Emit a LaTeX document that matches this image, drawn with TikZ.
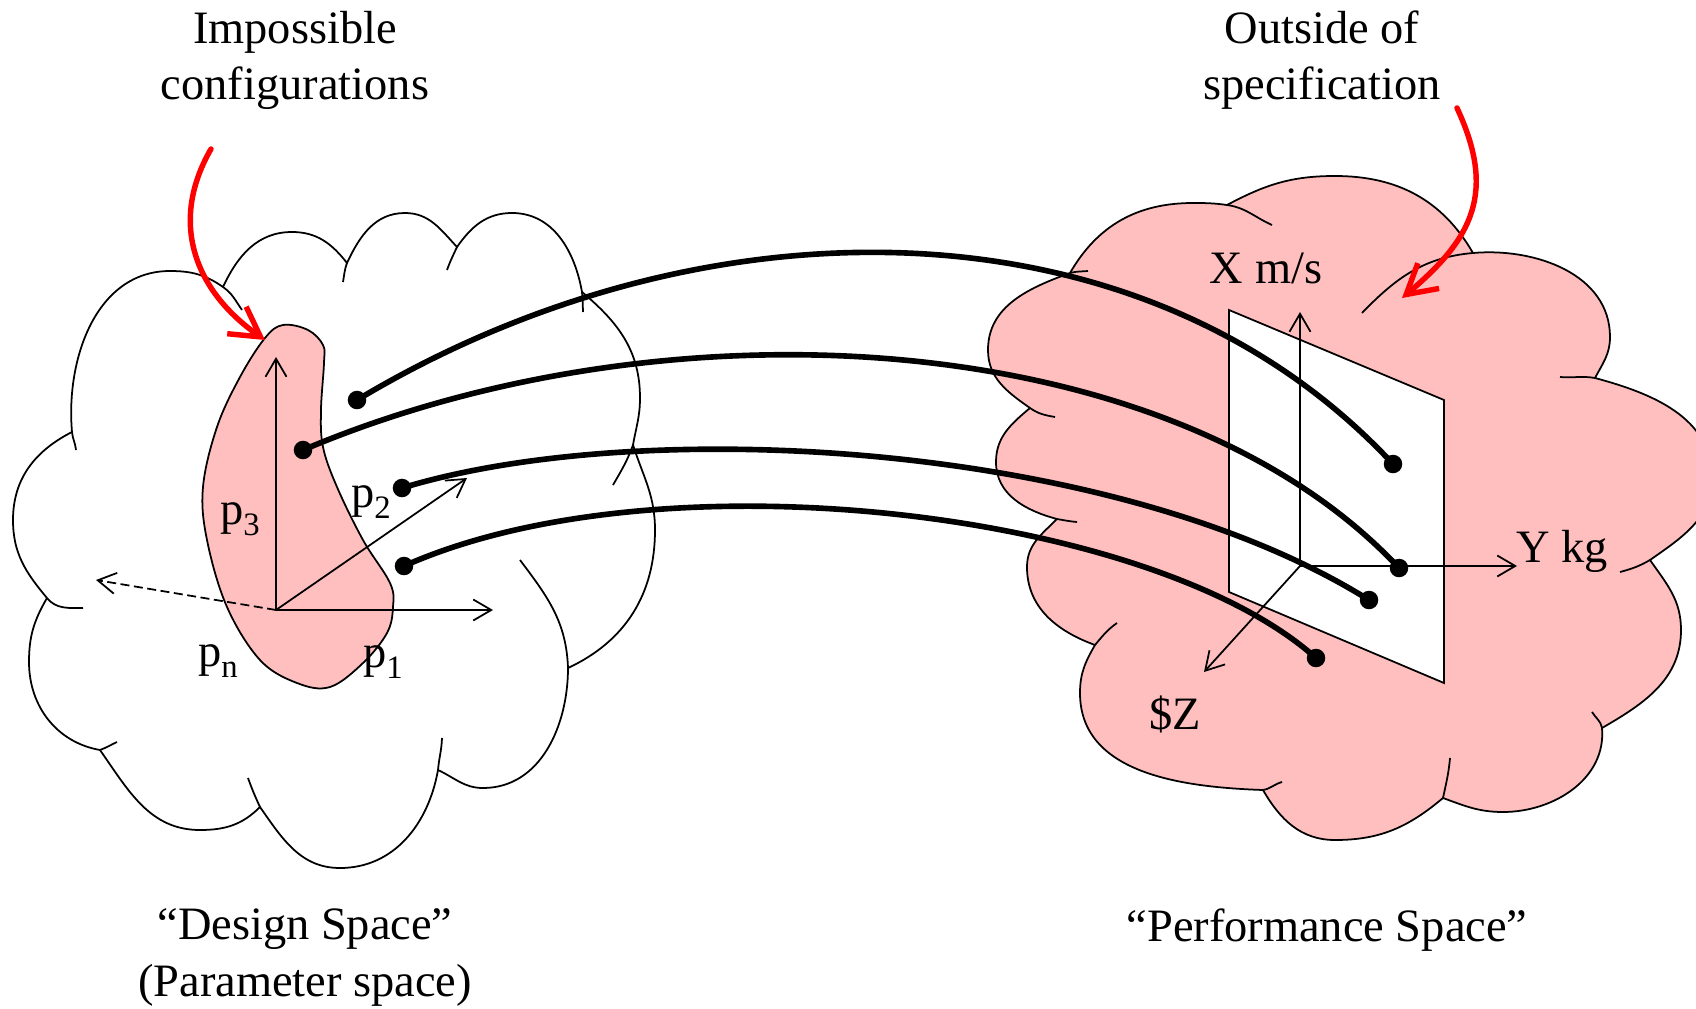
\documentclass[tikz,border=0pt]{standalone}
\usepackage{fontspec}
\setmainfont{Liberation Serif}
\usetikzlibrary{arrows.meta}
\definecolor{spacepink}{RGB}{255,191,191}
\definecolor{calloutred}{RGB}{255,0,0}
\newcommand{\parsub}[1]{p\raisebox{-0.24em}{\fontsize{9.3}{9.3}\selectfont #1}}
\tikzset{
  cloudline/.style={line width=0.5pt, black, line join=round},
  cloudfill/.style={cloudline, fill=spacepink},
  paxis/.style    ={-{Straight Barb[length=1.8mm,width=2.1mm]}, line width=0.5pt},
  paxisdash/.style={paxis, dash pattern=on 0.9mm off 0.45mm},
  mapline/.style  ={line width=1.6pt},
  mapdot/.style   ={circle, fill=black, inner sep=0pt, minimum size=1.85mm},
  callout/.style  ={-{Straight Barb[length=2.9mm,width=3.3mm]}, calloutred,
                    line width=1.55pt, line cap=round},
  specplane/.style={fill=white, draw=black, line width=0.5pt, line join=miter},
  lbl/.style      ={font=\fontsize{13.2}{16.2}\selectfont, inner sep=0pt},
}

\begin{document}
\begin{tikzpicture}[x=0.01cm, y=0.01cm]
  \useasboundingbox (0,0) rectangle (1696,-1009);
  % design space
  \coordinate (ds1)  at (100,-750);
  \coordinate (ds2)  at (47,-598);
  \coordinate (ds3)  at (72,-432);
  \coordinate (ds4)  at (223,-287);
  \coordinate (ds5)  at (347,-263);
  \coordinate (ds6)  at (457,-247);
  \coordinate (ds7)  at (582,-292);
  \coordinate (ds8)  at (633,-445);
  \coordinate (ds9)  at (568,-668);
  \coordinate (ds10) at (438,-770);
  \coordinate (ds11) at (260,-807);
  \draw[cloudline] (ds1) to[out=170,in=-90] (29,-662) to[out=90,in=240] (ds2)
    to[out=130,in=-90] (13,-520) to[out=90,in=207] (ds3)
    to[out=95,in=180] (170,-271) to[out=0,in=145] (ds4)
    to[out=65,in=180] (292,-232) to[out=0,in=128] (ds5)
    to[out=65,in=180] (405,-213) to[out=0,in=133] (ds6)
    to[out=55,in=180] (512,-213) to[out=0,in=100] (ds7)
    to[out=-40,in=90] (640,-398) to[out=-90,in=80] (ds8)
    to[out=-72,in=90] (655,-530) to[out=-90,in=25] (ds9)
    to[out=-90,in=0] (483,-788) to[out=180,in=-25] (ds10)
    to[out=-100,in=0] (340,-868) to[out=180,in=-55] (ds11)
    to[out=-135,in=0] (200,-830) to[out=180,in=-55] (ds1) -- cycle;
  \draw[cloudline]
    (ds1) to[out=20,in=205] (117,-742)
    (ds2) to[out=-51,in=180] (83,-608)
    (ds3) to[out=-85,in=95] (76,-450)
    (ds4) to[out=-35,in=125] (242,-310)
    (ds5) to[out=-110,in=80] (343,-282)
    (ds6) to[out=-115,in=70] (447,-270)
    (ds7) to[out=-85,in=92] (583,-312)
    (ds8) to[out=-110,in=60] (613,-485)
    (ds9) to[out=92,in=-53] (520,-560)
    (ds10) to[out=85,in=-92] (442,-738)
    (ds11) to[out=115,in=-70] (248,-778);
  \filldraw[cloudfill] plot[smooth cycle, tension=0.6] coordinates {(265,-338) (283,-325)
    (308,-330) (323,-345) (324,-363) (321,-410) (323,-447) (337,-487) (363,-540)
    (390,-583) (393,-607) (387,-633) (363,-663) (330,-687) (297,-683) (260,-660)
    (227,-607) (207,-540) (203,-487) (217,-427) (240,-377)};
  \coordinate (o1)    at (276,-610);
  \coordinate (p1end) at (493,-610);
  \coordinate (p2end) at (467,-478);
  \coordinate (p3end) at (276,-357);
  \coordinate (pnend) at (96,-580);
  \draw[paxis] (o1) -- (p1end);
  \draw[paxis] (o1) -- (p2end);
  \draw[paxis] (o1) -- (p3end);
  \draw[paxisdash] (o1) -- (pnend);

  % performance space
  \coordinate (ps1)  at (1070,-273);
  \coordinate (ps2)  at (1227,-205);
  \coordinate (ps3)  at (1473,-253);
  \coordinate (ps4)  at (1595,-378);
  \coordinate (ps5)  at (1650,-560);
  \coordinate (ps6)  at (1602,-728);
  \coordinate (ps7)  at (1443,-798);
  \coordinate (ps8)  at (1263,-790);
  \coordinate (ps9)  at (1095,-645);
  \coordinate (ps10) at (1057,-519);
  \coordinate (ps11) at (1030,-408);
  \filldraw[cloudfill] (ps11) to[out=145,in=-90] (988,-350) to[out=90,in=200] (ps1)
    to[out=60,in=180] (1193,-203) to[out=0,in=172] (ps2)
    to[out=28,in=180] (1335,-176) to[out=0,in=120] (ps3)
    to[out=5,in=90] (1610,-337) to[out=-90,in=62] (ps4)
    to[out=-15,in=90] (1712,-478) to[out=-90,in=35] (ps5)
    to[out=-55,in=90] (1681,-630) to[out=-90,in=30] (ps6)
    to[out=-85,in=0] (1503,-812) to[out=180,in=-20] (ps7)
    to[out=-140,in=0] (1335,-840) to[out=180,in=-60] (ps8)
    to[out=178,in=-90] (1080,-693) to[out=90,in=240] (ps9)
    to[out=160,in=-90] (1027,-567) to[out=90,in=225] (ps10)
    to[out=165,in=-90] (996,-462) to[out=90,in=220] (ps11) -- cycle;
  \draw[cloudline]
    (ps1) to[out=15,in=185] (1088,-271)
    (ps2) to[out=-8,in=156] (1272,-225)
    (ps3) to[out=185,in=46] (1362,-313)
    (ps4) to[out=170,in=-5] (1560,-377)
    (ps5) to[out=-150,in=15] (1620,-572)
    (ps6) to[out=100,in=-58] (1592,-712)
    (ps7) to[out=78,in=-95] (1450,-758)
    (ps8) to[out=10,in=195] (1282,-782)
    (ps9) to[out=50,in=215] (1117,-623)
    (ps10) to[out=-10,in=175] (1077,-522)
    (ps11) to[out=-35,in=170] (1055,-417);
  \filldraw[specplane] (1229,-310) -- (1444,-400) -- (1444,-683) -- (1229,-592) -- cycle;
  \coordinate (o2)   at (1300,-566);
  \coordinate (xend) at (1300,-312);
  \coordinate (yend) at (1517,-566);
  \coordinate (zend) at (1204,-672);
  \draw[paxis] (o2) -- (xend);
  \draw[paxis] (o2) -- (yend);
  \draw[paxis] (o2) -- (zend);

  % mappings
  \node[mapdot] (d1) at (357,-400) {};
  \node[mapdot] (d2) at (303,-450) {};
  \node[mapdot] (d3) at (402,-488) {};
  \node[mapdot] (d4) at (404,-566) {};
  \node[mapdot] (e1) at (1393,-464) {};
  \node[mapdot] (e2) at (1399,-568) {};
  \node[mapdot] (e3) at (1369,-600) {};
  \node[mapdot] (e4) at (1316,-658) {};
  \draw[mapline] (d1.center) .. controls (700,-194) and (1141,-193) .. (e1.center);
  \draw[mapline] (d2.center) .. controls (671,-294) and (1174,-327) .. (e2.center);
  \draw[mapline] (d3.center) .. controls (641,-415) and (1115,-441) .. (e3.center);
  \draw[mapline] (d4.center) .. controls (660,-452) and (1152,-511) .. (e4.center);

  \node[lbl, anchor=base] (lblpthree) at (240,-524) {\parsub{3}};
  \node[lbl, anchor=base] (lblptwo)   at (371,-507) {\parsub{2}};
  \node[lbl, anchor=base] (lblpn)     at (218,-666) {\parsub{n}};
  \node[lbl, anchor=base] (lblpone)   at (383,-667) {\parsub{1}};
  \node[lbl, anchor=base] (lblx)      at (1266,-283) {X m/s};
  \node[lbl, anchor=base] (lbly)      at (1562,-562) {Y kg};
  \node[lbl, anchor=base] (lblz)      at (1175,-729) {\$Z};
  \node[lbl, align=center, anchor=base] (imposs)  at (295,-100)  {Impossible\\configurations};
  \node[lbl, align=center, anchor=base] (outspec) at (1322,-100) {Outside of\\specification};
  \node[lbl, align=center, anchor=base] (dspace)  at (305,-996) {“Design Space”\\(Parameter space)};
  \node[lbl, anchor=base] (pspace) at (1327,-941) {“Performance Space”};

  % callouts
  \coordinate (impfrom) at (211,-149);
  \coordinate (impto)   at (265,-340);
  \coordinate (outfrom) at (1457,-108);
  \coordinate (outto)   at (1402,-298);
  \draw[callout] (impfrom) to[out=-120,in=145,looseness=1.1] (impto);
  \draw[callout] (outfrom) to[out=-65,in=40,looseness=1.2] (outto);
\end{tikzpicture}
\end{document}
